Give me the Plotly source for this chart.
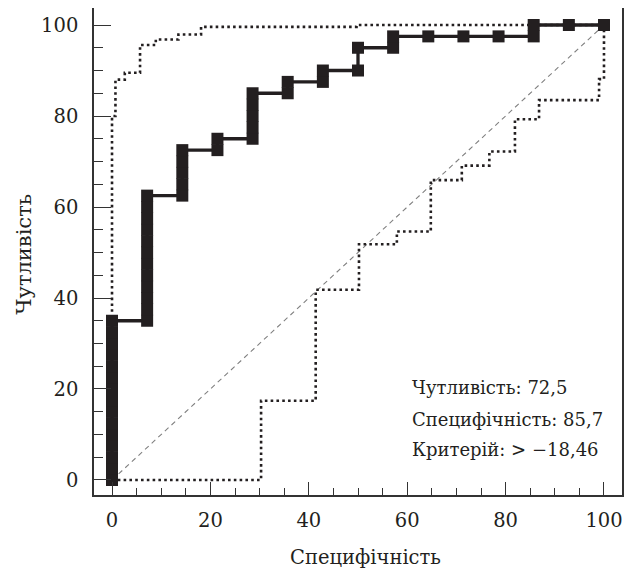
import plotly.graph_objects as go

# ROC curve (100 - specificity vs sensitivity), one point per threshold
roc_x = [0, 0, 0, 0, 0, 0, 0, 0, 0, 0, 0, 0, 0, 0, 0,
         7.14, 7.14, 7.14, 7.14, 7.14, 7.14, 7.14, 7.14, 7.14, 7.14, 7.14, 7.14,
         14.29, 14.29, 14.29, 14.29, 14.29,
         21.43, 21.43,
         28.57, 28.57, 28.57, 28.57, 28.57,
         35.71, 35.71,
         42.86, 42.86,
         50, 50,
         57.14, 57.14,
         64.29, 71.43, 78.57,
         85.71, 85.71,
         92.86, 100]
roc_y = [0, 2.5, 5, 7.5, 10, 12.5, 15, 17.5, 20, 22.5, 25, 27.5, 30, 32.5, 35,
         35, 37.5, 40, 42.5, 45, 47.5, 50, 52.5, 55, 57.5, 60, 62.5,
         62.5, 65, 67.5, 70, 72.5,
         72.5, 75,
         75, 77.5, 80, 82.5, 85,
         85, 87.5,
         87.5, 90,
         90, 95,
         95, 97.5,
         97.5, 97.5, 97.5,
         97.5, 100,
         100, 100]

# upper confidence bound
upper_x = [0, 0, 0.7, 0.7, 2.6, 2.6, 5.7, 5.7, 8.9, 8.9, 13.5, 13.5, 18.1, 18.1, 49.7, 49.7, 100]
upper_y = [0, 80, 80, 88, 88, 89.5, 89.5, 95.6, 95.6, 96.8, 96.8, 97.9, 97.9, 99.6, 99.6, 100, 100]

# lower confidence bound
lower_x = [0, 30.3, 30.3, 41.4, 41.4, 50.2, 50.2, 57.9, 57.9, 64.8, 64.8, 71.1, 71.1,
           76.7, 76.7, 81.9, 81.9, 86.8, 86.8, 99.0, 99.0, 100, 100]
lower_y = [0, 0, 17.4, 17.4, 41.8, 41.8, 51.8, 51.8, 54.6, 54.6, 65.9, 65.9, 69.1,
           69.1, 72.2, 72.2, 79.3, 79.3, 83.5, 83.5, 88.1, 88.1, 100]

diag = [0, 100]

tick_vals = [0, 20, 40, 60, 80, 100]
tick_text = ["0", "20", "40", "60", "80", "100"]

notes = ["Чутливість: 72,5", "Специфічність: 85,7", "Критерій: > \u221218,46"]
note_y = [20.3, 13.4, 6.6]

x_title = "Специфічність"
y_title = "Чутливість"

FONT = "DejaVu Serif"
INK = "#231f20"
AX = "#333333"

fig = go.Figure()
fig.add_trace(go.Scatter(x=diag, y=diag, mode="lines",
                         line=dict(color="#808080", width=1.1, dash="5px,4px"),
                         hoverinfo="skip"))
fig.add_trace(go.Scatter(x=upper_x, y=upper_y, mode="lines",
                         line=dict(color=INK, width=2.6, dash="2.6px,3.2px")))
fig.add_trace(go.Scatter(x=lower_x, y=lower_y, mode="lines",
                         line=dict(color=INK, width=2.6, dash="2.6px,3.2px")))
fig.add_trace(go.Scatter(x=roc_x, y=roc_y, mode="lines+markers",
                         line=dict(color=INK, width=3.3),
                         marker=dict(symbol="square", size=12, color=INK,
                                     line=dict(width=0))))

for t, yy in zip(notes, note_y):
    fig.add_annotation(x=60.6, y=yy, xref="x", yref="y", text=t, showarrow=False,
                       xanchor="left", yanchor="middle",
                       font=dict(family=FONT, size=18, color=INK))

fig.add_annotation(x=0.515, y=-0.129, xref="paper", yref="paper", text=x_title,
                   showarrow=False, xanchor="center", yanchor="middle",
                   font=dict(family=FONT, size=19.5, color=INK))
fig.add_annotation(x=-0.133, y=0.495, xref="paper", yref="paper", text=y_title,
                   showarrow=False, xanchor="center", yanchor="middle", textangle=-90,
                   font=dict(family=FONT, size=21, color=INK))

axis_common = dict(
    showgrid=False, zeroline=False, showline=True, mirror=True,
    linecolor=AX, linewidth=1.5, automargin=False,
    ticks="inside", tickcolor=AX, tickwidth=1.2,
    tickvals=tick_vals, ticktext=tick_text,
    tickfont=dict(family=FONT, size=19.5, color=INK),
    minor=dict(dtick=5, tick0=0, ticks="inside", tickcolor=AX,
               tickwidth=1.2, showgrid=False),
)

# the page body has an 8px margin, so the figure is 8px smaller and shifted
fig.update_layout(
    width=626, height=568,
    margin=dict(l=86, r=12, t=0, b=81),
    paper_bgcolor="white", plot_bgcolor="white",
    showlegend=False,
    xaxis=dict(axis_common, range=[-3.66, 103.66], ticklen=13, ticklabelstandoff=7),
    yaxis=dict(axis_common, range=[-3.3, 103.74], ticklen=17, ticklabelstandoff=10),
)
fig.update_xaxes(minor_ticklen=7)
fig.update_yaxes(minor_ticklen=9)

fig.write_html("out.html")
